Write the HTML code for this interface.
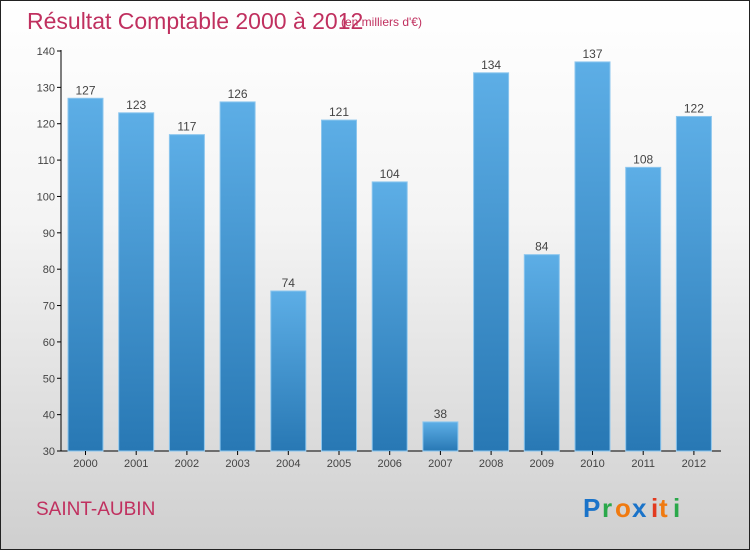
<!DOCTYPE html>
<html><head><meta charset="utf-8"><style>
body{margin:0;}
#c{width:748px;height:548px;border:1px solid #222;background:linear-gradient(#fff 0%,#f4f4f4 40%,#cfcfcf 100%);position:relative;font-family:"Liberation Sans",sans-serif;overflow:hidden;}
</style></head><body>
<div id="c">
<svg id="s" width="748" height="548" xmlns="http://www.w3.org/2000/svg">
<defs><linearGradient id="bg" x1="0" y1="0" x2="0" y2="1"><stop offset="0" stop-color="#5daee6"/><stop offset="1" stop-color="#2878b4"/></linearGradient></defs>
<text x="26" y="28" font-size="23" fill="#c0305f">Résultat Comptable 2000 à 2012</text>
<text x="340" y="25" font-size="12" fill="#c0305f">(en milliers d'€)</text>
<text x="35" y="514" font-size="19" fill="#c0305f">SAINT-AUBIN</text>
<g font-size="26" font-weight="bold" font-family="'Liberation Sans',sans-serif">
<text x="582" y="516" fill="#1a73c9">P</text><text x="601" y="516" fill="#2aa84a">r</text><text x="614" y="516" fill="#f07a10">o</text><text x="631" y="516" fill="#1a73c9">x</text><text x="650" y="516" fill="#e23a20">i</text><text x="658" y="516" fill="#f07a10">t</text><text x="672" y="516" fill="#2aa84a">i</text></g>
<g id="plot"></g>
</svg></div>
<script>
const categories=["2000","2001","2002","2003","2004","2005","2006","2007","2008","2009","2010","2011","2012"];
const values=[127,123,117,126,74,121,104,38,134,84,137,108,122];
const yTicks=[30,40,50,60,70,80,90,100,110,120,130,140];
const NS="http://www.w3.org/2000/svg";
const g=document.getElementById('plot');
const y=v=>450-(v-30)*400/110;
const xc=i=>84.5+i*50.7;
function mk(t,a,txt){const e=document.createElementNS(NS,t);for(const k in a)e.setAttribute(k,a[k]);if(txt!==undefined)e.textContent=txt;g.appendChild(e);return e;}
let ax=mk('line',{x1:60,y1:49,x2:60,y2:450,stroke:'#000'});


let xa=mk('line',{x1:60,y1:450,x2:720,y2:450,stroke:'#000'});


yTicks.forEach(v=>{
 let t=mk('line',{x1:56,y1:y(v),x2:60,y2:y(v),stroke:'#000'});
 
 
 let l=mk('text',{x:54,y:y(v)+4,'font-size':11,'text-anchor':'end',fill:'#444'},v);
 
 
});
categories.forEach((c,i)=>{
 let b=mk('rect',{x:xc(i)-17.5,y:y(values[i]),width:35,height:450-y(values[i]),fill:'url(#bg)',stroke:'#8cc6ee','stroke-width':1});
 
 
 let v=mk('text',{x:xc(i),y:y(values[i])-4,'font-size':12,'text-anchor':'middle',fill:'#444'},values[i]);
 
 
 let t=mk('line',{x1:xc(i),y1:450,x2:xc(i),y2:454,stroke:'#000'});
 
 
 let l=mk('text',{x:xc(i),y:466,'font-size':11,'text-anchor':'middle',fill:'#444'},c);
 
 
});
</script>
</body></html>
